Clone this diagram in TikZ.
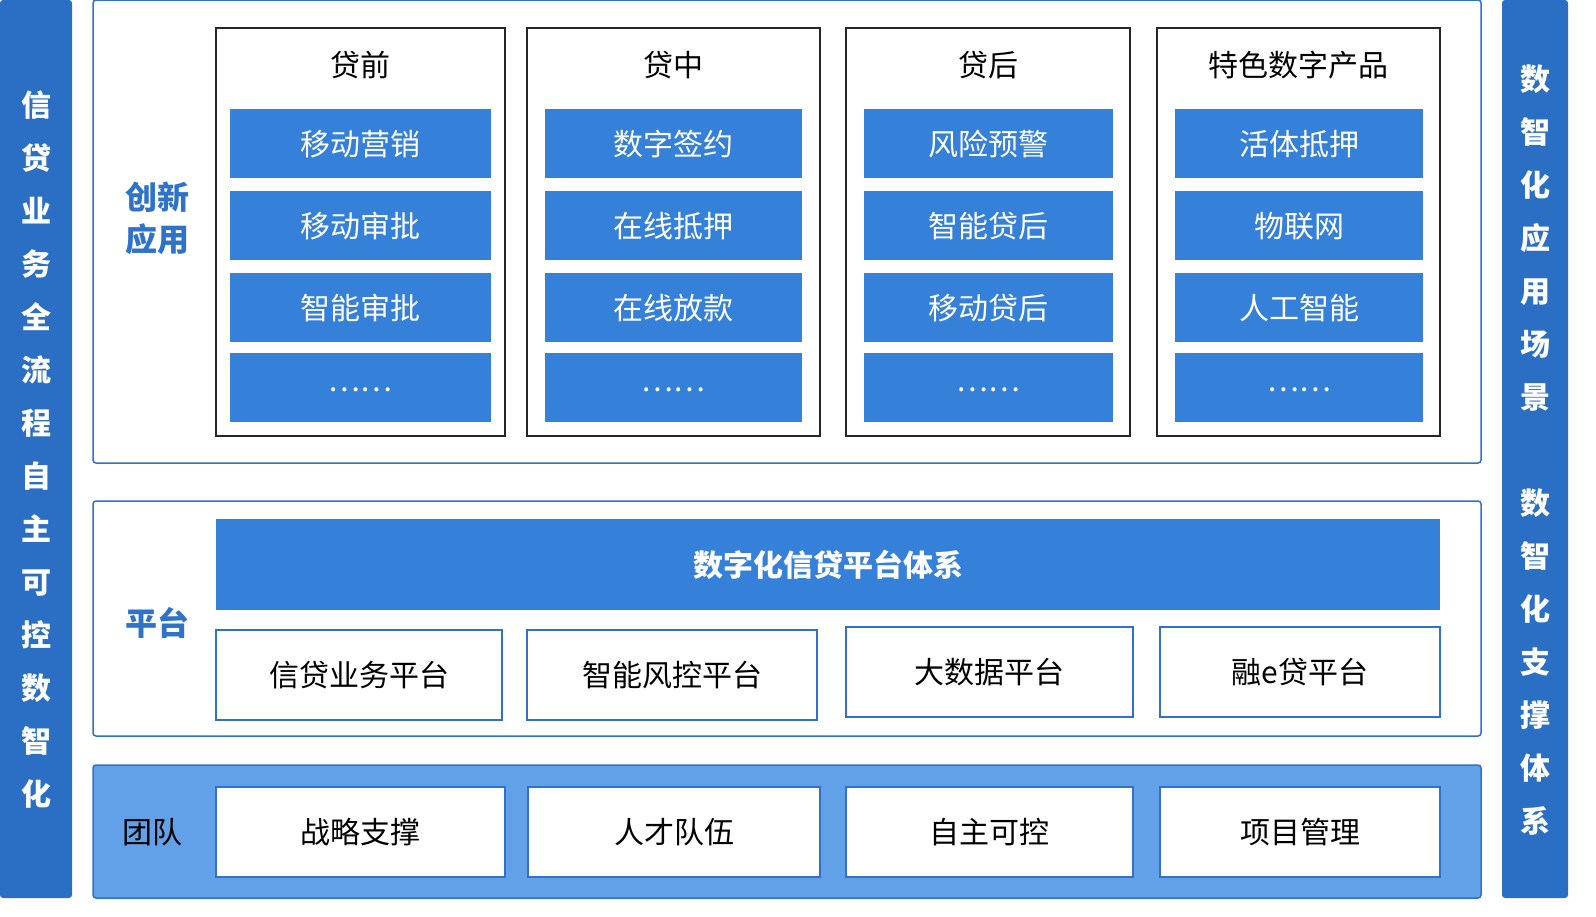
\documentclass[tikz,border=0pt]{standalone}
\usepackage{fontspec}
\setmainfont{Noto Sans CJK SC}
\definecolor{bar}{HTML}{2A6FC4}
\definecolor{item}{HTML}{3580D8}
\definecolor{team}{HTML}{62A0E8}
\definecolor{edge}{HTML}{2E72C9}
\tikzset{
 side/.style={fill=bar,rounded corners=3pt},
 layer/.style={draw=edge,line width=1.5pt,rounded corners=3pt},
 col/.style={draw=black!85,line width=1.5pt},
 itm/.style={fill=item},
 wbox/.style={draw=edge,line width=1.5pt,fill=white},
 t32/.style={font=\fontsize{30}{34}\selectfont},
 tw/.style={t32,text=white},
 lab/.style={font=\bfseries\fontsize{32}{42}\selectfont,text=edge,align=center},
 vt/.style={font=\bfseries\fontsize{30}{53}\selectfont,text=white,align=center},
}
\begin{document}
\begin{tikzpicture}[x=1pt,y=-1pt]
\useasboundingbox (0,0) rectangle (1596,916);
\fill[side] (0,0) rectangle (72,898);
\fill[side] (1502,0) rectangle (1568,898);
\node[vt] (lv) at (36,450) {信\\贷\\业\\务\\全\\流\\程\\自\\主\\可\\控\\数\\智\\化};
\node[vt] (rv1) at (1535,238) {数\\智\\化\\应\\用\\场\\景};
\node[vt] (rv2) at (1535,662) {数\\智\\化\\支\\撑\\体\\系};
\draw[layer,fill=white] (93,0) rectangle (1481,463);
\node[lab] (cx) at (157,218) {创新\\应用};
\foreach \n/\a/\b/\ia/\ib/\t/\s in {
 c1/216/505/230/491/贷前/{移动营销,移动审批,智能审批},
 c2/527/820/545/802/贷中/{数字签约,在线抵押,在线放款},
 c3/846/1130/864/1113/贷后/{风险预警,智能贷后,移动贷后},
 c4/1157/1440/1175/1423/特色数字产品/{活体抵押,物联网,人工智能}}{
 \draw[col] (\a,28) rectangle (\b,436);
 \node[t32] (\n h) at ({(\a+\b)/2},65) {\t};
 \foreach \x [count=\k] in \s {
  \fill[itm] (\ia,{109+82*(\k-1)}) rectangle (\ib,{178+82*(\k-1)});
  \node[tw] (\n i\k) at ({(\ia+\ib)/2},{144+82*(\k-1)}) {\x};
 }
 \fill[itm] (\ia,353) rectangle (\ib,422);
 \node[tw] (\n d) at ({(\ia+\ib)/2},390) {……};
}
\draw[layer,fill=white] (93,501) rectangle (1481,736);
\node[lab] (pt) at (157,623) {平台};
\fill[itm] (216,519) rectangle (1440,610);
\node[font=\bfseries\fontsize{30}{34}\selectfont,text=white] (pbig) at (828,565) {数字化信贷平台体系};
\foreach \n/\a/\b/\yt/\yb/\t in {p1/216/502/630/720/信贷业务平台,p2/527/817/630/720/智能风控平台,p3/846/1133/627/717/大数据平台,p4/1160/1440/627/717/融e贷平台}{
 \draw[wbox] (\a,\yt) rectangle (\b,\yb);
 \node[t32] (\n) at ({(\a+\b)/2},{(\yt+\yb)/2}) {\t};
}
\draw[layer,fill=team] (93,765) rectangle (1481,898);
\node[t32] (tm) at (152,832) {团队};
\foreach \n/\a/\b/\t in {t1/216/505/战略支撑,t2/528/820/人才队伍,t3/846/1133/自主可控,t4/1160/1440/项目管理}{
 \draw[wbox] (\a,787) rectangle (\b,877);
 \node[t32] (\n) at ({(\a+\b)/2},832) {\t};
}
\end{tikzpicture}
\end{document}
